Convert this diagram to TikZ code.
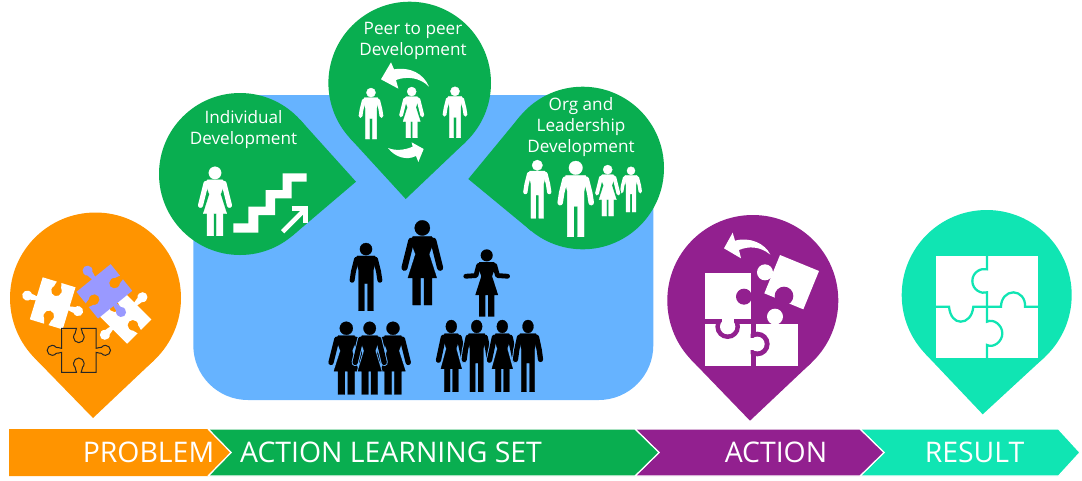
\documentclass[tikz,border=0pt]{standalone}
\usepackage{fontspec}
\setmainfont{Open Sans}
\usetikzlibrary{calc}
\definecolor{cOrange}{HTML}{FF9400}
\definecolor{cGreen}{HTML}{09AE50}
\definecolor{cBlue}{HTML}{66B3FF}
\definecolor{cPurple}{HTML}{92208F}
\definecolor{cTeal}{HTML}{10E5B3}
\definecolor{cLav}{HTML}{9999FF}
\tikzset{
  barlabel/.style={text=white,font=\fontsize{21.3}{24}\selectfont,inner sep=0pt,anchor=base},
  pinlabel/.style={text=white,font=\fontsize{12.85}{15.75}\selectfont,inner sep=0pt,align=center},
  chevron/.style={draw=white,line width=0.9pt,line join=miter},
  zoomed/.style={x=0.25pt,y=-0.25pt},
}
% pin: colour, cx, cy, r, tipx, tipy
\newcommand{\pin}[6]{%
  \pgfmathsetmacro\pinT{atan2(#6-#3,#5-#2)}%
  \pgfmathsetmacro\pinD{veclen(#6-#3,#5-#2)}%
  \pgfmathsetmacro\pinP{acos(#4/\pinD)}%
  \fill[#1] (#2,#3) circle[radius=#4];
  \fill[#1] (#5,#6) -- ($(#2,#3)+(\pinT+\pinP:#4)$) -- (#2,#3) -- ($(#2,#3)+(\pinT-\pinP:#4)$) -- cycle;
}
% people, unit coordinates: height 100
\newcommand{\shapeM}[3]{%
  \path[fill=#1,draw=#1,line width=#2,line join=round] (0,9) circle[radius=9];
  \path[fill=#1,draw=#1,line width=#2,line join=round] (-13,19)--(13,19)--(15,24)--(11,40)--(11,100)--(2.5,100)--(2.5,60)--(-2.5,60)--(-2.5,100)--(-11,100)--(-11,40)--(-15,24)--cycle;
  \draw[#1,line width=#3*0.052pt+#2,line cap=round,line join=round] (-14,24)--(-18.5,42)--(-20.5,55);
  \draw[#1,line width=#3*0.052pt+#2,line cap=round,line join=round] (14,24)--(18.5,42)--(20.5,55);
}
\newcommand{\shapeW}[3]{%
  \path[fill=#1,draw=#1,line width=#2,line join=round] (0,9) circle[radius=9];
  \path[fill=#1,draw=#1,line width=#2,line join=round] (-11,19)--(11,19)--(14,24)--(8,40)--(17,68)--(11.4,68)--(11.4,100)--(2,100)--(2,68)--(-2,68)--(-2,100)--(-11.4,100)--(-11.4,68)--(-17,68)--(-8,40)--(-14,24)--cycle;
  \draw[#1,line width=#3*0.052pt+#2,line cap=round,line join=round] (-13,24)--(-21,56);
  \draw[#1,line width=#3*0.052pt+#2,line cap=round,line join=round] (13,24)--(21,56);
}
\newcommand{\personM}[4]{\begin{scope}[shift={(#1,#2)},x=#3*0.0075pt,y=-#3*0.0075pt]\shapeM{#4}{0.2pt}{#3}\end{scope}}
\newcommand{\personW}[4]{\begin{scope}[shift={(#1,#2)},x=#3*0.0075pt,y=-#3*0.0075pt]\shapeW{#4}{0.2pt}{#3}\end{scope}}
% haloed figures: optional width factor
\newcommand{\personMh}[6][1]{\begin{scope}[shift={(#2,#3)},x=#4*0.0075pt*#1,y=-#4*0.0075pt]\shapeM{#6}{1.6pt}{#4}\shapeM{#5}{0.2pt}{#4}\end{scope}}
\newcommand{\personWh}[6][1]{\begin{scope}[shift={(#2,#3)},x=#4*0.0075pt*#1,y=-#4*0.0075pt]\shapeW{#6}{1.6pt}{#4}\shapeW{#5}{0.2pt}{#4}\end{scope}}
% puzzle piece outline centred on the origin (zoomed units)
\newcommand{\piecepath}{(-51.5,-66) -- (-7,-66) .. controls (-7,-60) and (-12,-56) .. (-11,-51) .. controls (-14,-48) and (-16,-44) .. (-16,-39) .. controls (-16,-30) and (-8,-23) .. (0,-23) .. controls (8,-23) and (16,-30) .. (16,-39) .. controls (16,-44) and (14,-48) .. (11,-51) .. controls (12,-56) and (7,-60) .. (7,-66) -- (51.5,-66) -- (51.5,-6) .. controls (57,-5) and (62,-11) .. (68,-9) .. controls (71,-13) and (75,-15) .. (80,-15) .. controls (88,-15) and (95,-8) .. (95,0) .. controls (95,8) and (88,15) .. (80,15) .. controls (75,15) and (71,13) .. (68,9) .. controls (62,11) and (57,5) .. (51.5,6) -- (51.5,66) -- (7,66) .. controls (7,60) and (12,56) .. (11,51) .. controls (14,48) and (16,44) .. (16,39) .. controls (16,30) and (8,23) .. (0,23) .. controls (-8,23) and (-16,30) .. (-16,39) .. controls (-16,44) and (-14,48) .. (-11,51) .. controls (-12,56) and (-7,60) .. (-7,66) -- (-51.5,66) -- (-51.5,6) .. controls (-57,5) and (-62,11) .. (-68,9) .. controls (-71,13) and (-75,15) .. (-80,15) .. controls (-88,15) and (-95,8) .. (-95,0) .. controls (-95,-8) and (-88,-15) .. (-80,-15) .. controls (-75,-15) and (-71,-13) .. (-68,-9) .. controls (-62,-11) and (-57,-5) .. (-51.5,-6) -- cycle}
\begin{document}
\begin{tikzpicture}[x=0.75pt,y=-0.75pt]
\useasboundingbox (0,0) rectangle (1082,480);
% blue panel
\fill[cBlue,rounded corners=41pt] (193.3,95) rectangle (653.3,400);
% pins
\pin{cOrange}{95.5}{298}{85.5}{93}{418}
\pin{cGreen}{240}{174}{81}{356}{181.7}
\pin{cGreen}{409.7}{83}{81.3}{405.7}{199}
\pin{cGreen}{582.7}{168}{81.3}{468.3}{179}
\pin{cPurple}{752.8}{300.5}{85.5}{750}{420.7}
\pin{cTeal}{986.7}{295}{85}{982.7}{414.3}
% chevron bar
\path[chevron,fill=cTeal] (860,429) -- (1058.5,429) -- (1080,452.5) -- (1058.5,476) -- (860,476) -- (884,452.5) -- cycle;
\path[chevron,fill=cPurple] (635,429) -- (860,429) -- (884,452.5) -- (860,476) -- (635,476) -- (659,452.5) -- cycle;
\path[chevron,fill=cGreen] (208,429) -- (635,429) -- (659,452.5) -- (635,476) -- (208,476) -- (231,452.5) -- cycle;
\fill[cOrange] (9,429) -- (208,429) -- (231,452.5) -- (208,476) -- (9,476) -- cycle;
\draw[white,line width=0.9pt] (208,429) -- (231,452.5) -- (208,476);
\node[barlabel] (lProblem) at (148.5,462) {PROBLEM};
\node[barlabel] (lAls) at (391,462) {ACTION LEARNING SET};
\node[barlabel] (lAction) at (776,462) {ACTION};
\node[barlabel] (lResult) at (974.5,462) {RESULT};
% pin labels
\node[pinlabel] (lInd) at (243.5,129.5) {Individual\\Development};
\node[pinlabel] (lPeer) at (413,40.5) {Peer to peer\\Development};
\node[pinlabel] (lOrg) at (581,127) {Org and\\Leadership\\Development};
% black people
\personM{366}{243}{67.7}{black}
\personW{422.3}{220.3}{84.7}{black}
\begin{scope}[shift={(486.7,249.3)},x=0.505pt,y=-0.505pt]
  \fill[black] (0,9) circle[radius=9];
  \fill[black] (-11,19)--(11,19)--(14,24)--(8,40)--(17,68)--(11.4,68)--(11.4,100)--(2,100)--(2,68)--(-2,68)--(-2,100)--(-11.4,100)--(-11.4,68)--(-17,68)--(-8,40)--(-14,24)--cycle;
  \draw[black,line width=3.6pt,line cap=round,line join=round] (-12,24)--(-16,39)--(-31,40);
  \draw[black,line width=3.6pt,line cap=round,line join=round] (12,24)--(16,39)--(31,40);
\end{scope}
\personW{346.3}{321.7}{72.7}{black}
\personW{393}{321.7}{72.7}{black}
\personWh[0.95]{369.7}{321.7}{72.7}{black}{cBlue}
\personWh[0.85]{451.3}{320}{71.7}{black}{cBlue}
\personMh[0.85]{476.7}{320}{71.7}{black}{cBlue}
\personWh[0.85]{502.3}{320}{71.7}{black}{cBlue}
\personMh[0.85]{528}{320}{71.7}{black}{cBlue}
% individual icons
\personW{215}{166.7}{69}{white}
\begin{scope}[shift={(150,80)},zoomed]
  \fill[white] (250,430)--(295,430)--(295,380)--(347,380)--(347,330)--(398,330)--(398,280)--(470,280)--(470,305)--(425,305)--(425,355)--(375,355)--(375,405)--(325,405)--(325,458)--(250,458)--cycle;
  \draw[white,line width=3.5pt] (398,455)--(465,388);
  \draw[white,line width=3.5pt] (425,386)--(466,386)--(466,430);
\end{scope}
% peer icons
\personM{371}{88}{51}{white}
\personW{411.7}{87}{50.7}{white}
\personM{455}{86.7}{51}{white}
\begin{scope}[shift={(320,0)},zoomed]
  \fill[white] (183,238)--(213,187)--(222,208) .. controls (270,200) and (310,220) .. (327,260) .. controls (300,232) and (260,228) .. (228,240) -- (235,266) -- cycle;
  \fill[white] (311,447)--(275,427)--(278,440) .. controls (250,452) and (225,452) .. (204,444) .. controls (225,472) and (260,482) .. (288,468) -- (295,486) -- cycle;
\end{scope}
% org icons
\personM{537.3}{160}{58.3}{white}
\personM{575.7}{161}{75.7}{white}
\personM{631}{166.7}{45.3}{white}
\personWh{607.7}{165}{51}{white}{cGreen}
% problem puzzle
\begin{scope}[shift={(0,200)},zoomed]
  \begin{scope}[shift={(158,310)},rotate=-17]\fill[white] \piecepath;\end{scope}
  \begin{scope}[shift={(371,348)},rotate=45]\fill[white] \piecepath;\end{scope}
  \begin{scope}[shift={(313,274)},rotate=-51]\fill[cLav] \piecepath;\end{scope}
  \begin{scope}[shift={(236.5,451)}]\draw[black!85,line width=0.75pt] \piecepath;\end{scope}
\end{scope}
% action puzzle
\begin{scope}[shift={(660,210)},zoomed]
  \fill[white] (135,190) rectangle (272,327);
  \fill[white] (135,342) rectangle (272,468);
  \fill[white] (287,342) rectangle (413,468);
  \fill[white] (345,320) circle[radius=24];
  \fill[cPurple] (252,260) circle[radius=24];
  \begin{scope}
    \clip (135,327) rectangle (272,468);
    \fill[cPurple] (203,350) circle[radius=37];
  \end{scope}
  \fill[white] (203,350) circle[radius=23];
  \fill[white] (185,325) rectangle (221,342);
  \begin{scope}
    \clip (272,342) rectangle (413,468);
    \fill[cPurple] (292,402) circle[radius=37];
  \end{scope}
  \fill[white] (292,402) circle[radius=22];
  \fill[white] (270,385) rectangle (288,419);
  \fill[white] (360,135)--(477,183)--(430,298)--(313,250)--cycle;
  \fill[white] (315,187) circle[radius=24];
  \fill[cPurple] (372,258) circle[radius=28];
  \fill[white] (192,115)--(218,68)--(225,92) .. controls (270,80) and (315,100) .. (331,134) .. controls (300,108) and (265,108) .. (237,120) -- (243,145) -- cycle;
\end{scope}
% result puzzle
\begin{scope}[shift={(895,205)},zoomed]
  \fill[white] (123,153) rectangle (430,460);
  \draw[cTeal,line width=1.7pt] (276,153) -- (276,193) .. controls (260,188) and (232,200) .. (232,228) .. controls (232,255) and (260,268) .. (276,262) -- (276,350) .. controls (295,340) and (322,360) .. (322,385) .. controls (322,410) and (295,430) .. (276,420) -- (276,460);
  \draw[cTeal,line width=1.7pt] (123,305) -- (162,305) .. controls (165,335) and (180,350) .. (197,350) .. controls (215,350) and (232,335) .. (235,305) -- (318,305) .. controls (318,280) and (335,262) .. (355,262) .. controls (375,262) and (392,280) .. (390,305) -- (430,305);
\end{scope}
\end{tikzpicture}
\end{document}
